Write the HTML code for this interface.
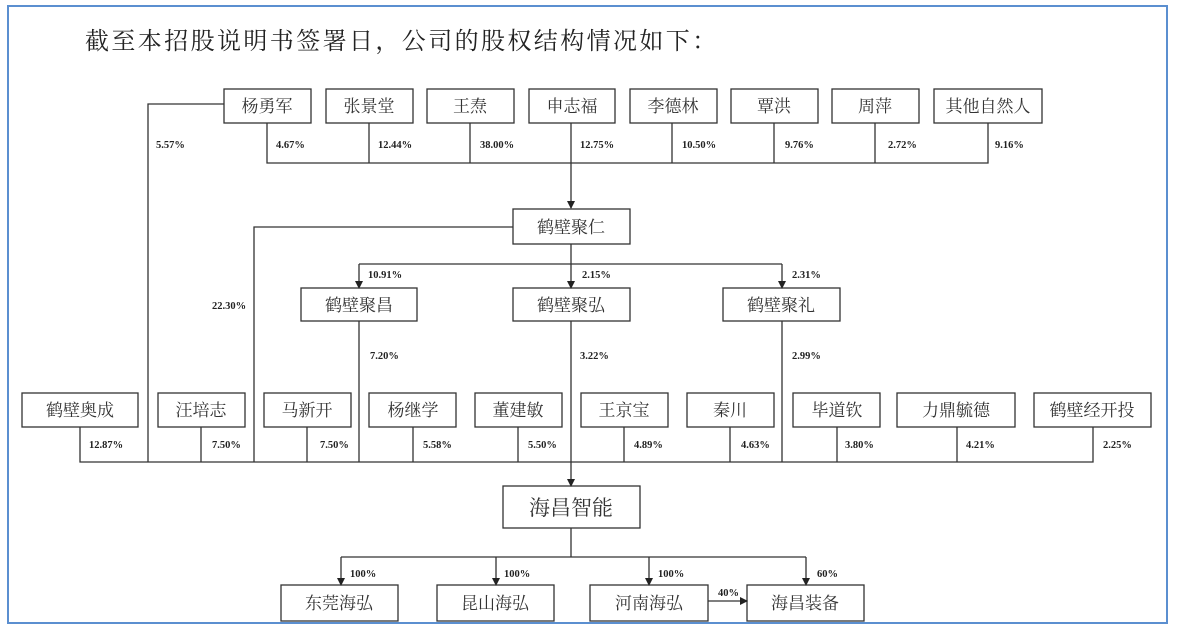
<!DOCTYPE html>
<html><head><meta charset="utf-8"><style>
html,body{margin:0;padding:0;background:#fff;}
body{width:1181px;height:626px;overflow:hidden;position:relative;}
</style></head><body>
<svg width="1181" height="626" viewBox="0 0 1181 626" xmlns="http://www.w3.org/2000/svg" style="position:absolute;left:0;top:0">
<defs>
<marker id="r" markerWidth="8" markerHeight="8" refX="7" refY="4" orient="auto" markerUnits="userSpaceOnUse"><path d="M0,0 L8,4 L0,8 z" fill="#222"/></marker></defs>
<rect x="8" y="6" width="1159" height="617" fill="none" stroke="#5b8fd0" stroke-width="2"/>
<text x="85" y="49" font-family="Liberation Serif,Noto Serif CJK SC,serif" font-size="24" letter-spacing="2.4" fill="#222">截至本招股说明书签署日，公司的股权结构情况如下：</text>
<g fill="none" stroke="#333" stroke-width="1.3">
<rect x="224" y="89" width="87" height="34"/><rect x="326" y="89" width="87" height="34"/><rect x="427" y="89" width="87" height="34"/><rect x="529" y="89" width="86" height="34"/><rect x="630" y="89" width="87" height="34"/><rect x="731" y="89" width="87" height="34"/><rect x="832" y="89" width="87" height="34"/><rect x="934" y="89" width="108" height="34"/>
<path d="M267,123V163H988V123M369,123V163M470,123V163M672,123V163M774,123V163M875,123V163"/>
<path d="M571,123V208" marker-end="url(#r)"/>
<path d="M224,104H148V462"/>
<rect x="513" y="209" width="117" height="35"/>
<path d="M513,227H254V462"/>
<path d="M571,244V264M359,264H782"/>
<path d="M359,264V288" marker-end="url(#r)"/><path d="M571,264V288" marker-end="url(#r)"/><path d="M782,264V288" marker-end="url(#r)"/>
<rect x="301" y="288" width="116" height="33"/><rect x="513" y="288" width="117" height="33"/><rect x="723" y="288" width="117" height="33"/>
<path d="M359,321V462M782,321V462"/>
<rect x="22" y="393" width="116" height="34"/><rect x="158" y="393" width="87" height="34"/><rect x="264" y="393" width="87" height="34"/><rect x="369" y="393" width="87" height="34"/><rect x="475" y="393" width="87" height="34"/><rect x="581" y="393" width="87" height="34"/><rect x="687" y="393" width="87" height="34"/><rect x="793" y="393" width="87" height="34"/><rect x="897" y="393" width="118" height="34"/><rect x="1034" y="393" width="117" height="34"/>
<path d="M80,427V462H1093V427M201,427V462M307,427V462M413,427V462M518,427V462M624,427V462M730,427V462M837,427V462M957,427V462"/>
<path d="M571,321V486" marker-end="url(#r)"/>
<rect x="503" y="486" width="137" height="42"/>
<path d="M571,528V557M341,557H806"/>
<path d="M341,557V585" marker-end="url(#r)"/><path d="M496,557V585" marker-end="url(#r)"/><path d="M649,557V585" marker-end="url(#r)"/><path d="M806,557V585" marker-end="url(#r)"/>
<rect x="281" y="585" width="117" height="36"/><rect x="437" y="585" width="117" height="36"/><rect x="590" y="585" width="118" height="36"/><rect x="747" y="585" width="117" height="36"/>
<path d="M708,601H747" marker-end="url(#r)"/>
</g>
<g font-family="Liberation Serif,Noto Serif CJK SC,serif" font-size="17" fill="#333" text-anchor="middle">
<text x="267" y="112">杨勇军</text><text x="369" y="112">张景堂</text><text x="470" y="112">王焘</text><text x="572" y="112">申志福</text><text x="673" y="112">李德林</text><text x="774" y="112">覃洪</text><text x="875" y="112">周萍</text><text x="988" y="112">其他自然人</text>
<text x="571" y="233">鹤壁聚仁</text>
<text x="359" y="311">鹤壁聚昌</text><text x="571" y="311">鹤壁聚弘</text><text x="781" y="311">鹤壁聚礼</text>
<text x="80" y="416">鹤壁奥成</text><text x="201" y="416">汪培志</text><text x="307" y="416">马新开</text><text x="413" y="416">杨继学</text><text x="518" y="416">董建敏</text><text x="624" y="416">王京宝</text><text x="730" y="416">秦川</text><text x="837" y="416">毕道钦</text><text x="956" y="416">力鼎毓德</text><text x="1092" y="416">鹤壁经开投</text>
<text x="571" y="515" font-size="21">海昌智能</text>
<text x="339" y="609">东莞海弘</text><text x="495" y="609">昆山海弘</text><text x="649" y="609">河南海弘</text><text x="805" y="609">海昌装备</text>
</g>
<g font-family="Liberation Serif,serif" font-size="10.5" font-weight="bold" fill="#222">
<text x="156" y="148">5.57%</text><text x="276" y="148">4.67%</text><text x="378" y="148">12.44%</text><text x="480" y="148">38.00%</text><text x="580" y="148">12.75%</text><text x="682" y="148">10.50%</text><text x="785" y="148">9.76%</text><text x="888" y="148">2.72%</text><text x="995" y="148">9.16%</text>
<text x="212" y="309">22.30%</text>
<text x="368" y="278">10.91%</text><text x="582" y="278">2.15%</text><text x="792" y="278">2.31%</text>
<text x="370" y="359">7.20%</text><text x="580" y="359">3.22%</text><text x="792" y="359">2.99%</text>
<text x="89" y="448">12.87%</text><text x="212" y="448">7.50%</text><text x="320" y="448">7.50%</text><text x="423" y="448">5.58%</text><text x="528" y="448">5.50%</text><text x="634" y="448">4.89%</text><text x="741" y="448">4.63%</text><text x="845" y="448">3.80%</text><text x="966" y="448">4.21%</text><text x="1103" y="448">2.25%</text>
<text x="350" y="577">100%</text><text x="504" y="577">100%</text><text x="658" y="577">100%</text><text x="817" y="577">60%</text><text x="718" y="596">40%</text>
</g>
</svg>
</body></html>
